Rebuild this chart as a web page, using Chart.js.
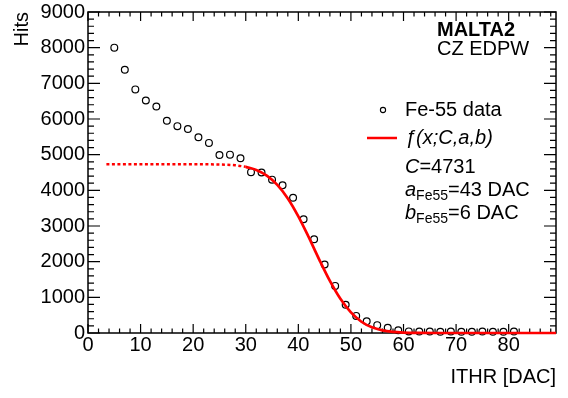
<!DOCTYPE html>
<html>
<head>
<meta charset="utf-8">
<script src="https://cdn.jsdelivr.net/npm/chart.js"></script>
<style>
  html, body { margin: 0; padding: 0; background: #fff; }
  #wrap { width: 568px; height: 398px; }
</style>
</head>
<body>
<div id="wrap"><canvas id="hitsChart" width="568" height="398"></canvas></div>
<script>
var FONT = '"Liberation Sans", Arial, Helvetica, sans-serif';

// Fe-55 threshold scan
var ithrValues = [5, 7, 9, 11, 13, 15, 17, 19, 21, 23, 25, 27, 29, 31, 33, 35, 37, 39, 41,
                  43, 45, 47, 49, 51, 53, 55, 57, 59, 61, 63, 65, 67, 69, 71, 73, 75, 77, 79, 81];
var hitValues = [8000, 7380, 6830, 6520, 6350, 5950, 5800, 5720, 5490, 5330, 4990, 5000, 4900,
                 4510, 4500, 4300, 4140, 3790, 3190, 2630, 1920, 1320, 790, 480, 330, 220, 145,
                 75, 45, 40, 40, 35, 40, 35, 35, 40, 35, 35, 40];

// fit curve f(x;C,a,b), sampled along the drawn red line
var fitDashedX = [3.5, 10, 16, 20, 24, 26, 28, 30];
var fitDashedY = [4731, 4731, 4731, 4731, 4727, 4720, 4702, 4659];
var fitSolidX = [30, 32, 34, 36, 38, 40, 42, 43, 44, 46, 48, 50, 52, 54, 56, 58, 60, 63, 66, 89];
var fitSolidY = [4659, 4573, 4415, 4155, 3774, 3271, 2679, 2366, 2052, 1460, 957, 576, 316, 158,
                 72, 29, 11, 2, 0, 0];

var xTickValues = [0, 10, 20, 30, 40, 50, 60, 70, 80];
var yTickValues = [0, 1000, 2000, 3000, 4000, 5000, 6000, 7000, 8000, 9000];

function toPoints(xs, ys) {
    var pts = [];
    for (var i = 0; i < xs.length; i++) {
        pts.push({ x: xs[i], y: ys[i] });
    }
    return pts;
}

// draw a line of text made of runs (italic / subscript parts)
function drawRuns(ctx, x, y, runs) {
    for (var i = 0; i < runs.length; i++) {
        var r = runs[i];
        var size = r.sub ? 14 : 20;
        ctx.font = (r.italic ? 'italic ' : '') + (r.bold ? 'bold ' : '') + size + 'px ' + FONT;
        ctx.fillText(r.t, x, r.sub ? y + 6 : y);
        x += ctx.measureText(r.t).width;
    }
}

// ROOT-like frame with inward ticks on all four sides, plus the text boxes
var frameAndTicks = {
    id: 'frameAndTicks',
    beforeDatasetsDraw: function(chart) {
        var ctx = chart.ctx;
        var a = chart.chartArea;
        var xs = chart.scales.x;
        var ys = chart.scales.y;
        ctx.save();
        ctx.strokeStyle = '#000';
        ctx.lineWidth = 1.5;
        ctx.strokeRect(a.left, a.top, a.right - a.left, a.bottom - a.top);

        ctx.lineWidth = 1.2;
        ctx.beginPath();
        for (var v = 0; v <= xs.max; v += 2) {
            var px = xs.getPixelForValue(v);
            var len = (v % 10 === 0) ? 9 : 4.5;
            ctx.moveTo(px, a.bottom);
            ctx.lineTo(px, a.bottom - len);
            ctx.moveTo(px, a.top);
            ctx.lineTo(px, a.top + len);
        }
        for (var w = 0; w <= ys.max; w += 200) {
            var py = ys.getPixelForValue(w);
            var l2 = (w % 1000 === 0) ? 12 : 6;
            ctx.moveTo(a.left, py);
            ctx.lineTo(a.left + l2, py);
            ctx.moveTo(a.right, py);
            ctx.lineTo(a.right - l2, py);
        }
        ctx.stroke();
        ctx.restore();
    },
    afterDraw: function(chart) {
        var ctx = chart.ctx;
        ctx.save();
        ctx.fillStyle = '#000';
        ctx.textBaseline = 'middle';
        ctx.textAlign = 'left';

        drawRuns(ctx, 437, 30, [{ t: 'MALTA2', bold: true }]);
        drawRuns(ctx, 437, 49, [{ t: 'CZ EDPW' }]);

        // legend
        ctx.strokeStyle = '#000';
        ctx.lineWidth = 1.1;
        ctx.beginPath();
        ctx.arc(383, 110, 2.6, 0, Math.PI * 2);
        ctx.stroke();
        drawRuns(ctx, 405, 110, [{ t: 'Fe-55 data' }]);

        ctx.strokeStyle = '#ff0000';
        ctx.lineWidth = 2.5;
        ctx.beginPath();
        ctx.moveTo(367, 138);
        ctx.lineTo(397, 138);
        ctx.stroke();
        drawRuns(ctx, 405, 138, [{ t: '\u0192(x;C,a,b)', italic: true }]);

        drawRuns(ctx, 405, 167, [{ t: 'C', italic: true }, { t: '=4731' }]);
        drawRuns(ctx, 405, 190, [{ t: 'a', italic: true }, { t: 'Fe55', sub: true }, { t: '=43 DAC' }]);
        drawRuns(ctx, 405, 213, [{ t: 'b', italic: true }, { t: 'Fe55', sub: true }, { t: '=6 DAC' }]);
        ctx.restore();
    }
};

var ctx = document.getElementById('hitsChart').getContext('2d');
var mainChart = new Chart(ctx, {
    type: 'scatter',
    data: {
        datasets: [
            {
                label: 'Fe-55 data',
                data: toPoints(ithrValues, hitValues),
                showLine: false,
                pointStyle: 'circle',
                pointRadius: 3.4,
                pointBorderWidth: 1.2,
                pointBorderColor: '#000',
                pointBackgroundColor: 'rgba(0,0,0,0)',
                order: 2,
                clip: false
            }, {
                label: 'f(x;C,a,b) extrapolated',
                data: toPoints(fitDashedX, fitDashedY),
                showLine: true,
                borderColor: '#ff0000',
                borderWidth: 2.5,
                borderDash: [3, 2.5],
                pointRadius: 0,
                cubicInterpolationMode: 'monotone',
                order: 1,
                clip: false
            }, {
                label: 'f(x;C,a,b)',
                data: toPoints(fitSolidX, fitSolidY),
                showLine: true,
                borderColor: '#ff0000',
                borderWidth: 2.7,
                pointRadius: 0,
                cubicInterpolationMode: 'monotone',
                order: 1,
                clip: false
            }]
    },
    options: {
        responsive: false,
        animation: false,
        layout: { padding: { top: 9, right: 12, left: 0, bottom: 0 } },
        plugins: {
            legend: { display: false },
            tooltip: { enabled: false }
        },
        scales: {
            x: {
                type: 'linear',
                min: 0,
                max: 89,
                afterFit: function(scale) { scale.height = 65; },
                afterBuildTicks: function(scale) {
                    scale.ticks = xTickValues.map(function(v) { return { value: v }; });
                },
                grid: { display: false, drawTicks: false },
                border: { display: false },
                ticks: {
                    color: '#000',
                    padding: 2,
                    maxRotation: 0,
                    autoSkip: false,
                    callback: function(value) { return String(value); },
                    font: { family: FONT, size: 20, lineHeight: 1 }
                },
                title: {
                    display: true,
                    text: 'ITHR [DAC]',
                    align: 'end',
                    color: '#000',
                    font: { family: FONT, size: 20 },
                    padding: { top: 0, bottom: 9 }
                }
            },
            y: {
                type: 'linear',
                min: 0,
                max: 9000,
                afterFit: function(scale) { scale.width = 88; },
                afterBuildTicks: function(scale) {
                    scale.ticks = yTickValues.map(function(v) { return { value: v }; });
                },
                grid: { display: false, drawTicks: false },
                border: { display: false },
                ticks: {
                    color: '#000',
                    padding: 3,
                    autoSkip: false,
                    callback: function(value) { return String(value); },
                    font: { family: FONT, size: 20, lineHeight: 0.9 }
                },
                title: {
                    display: true,
                    text: 'Hits',
                    align: 'end',
                    color: '#000',
                    font: { family: FONT, size: 20 },
                    padding: { top: 10.5, bottom: 0 }
                }
            }
        }
    },
    plugins: [frameAndTicks]
});
</script>
</body>
</html>
